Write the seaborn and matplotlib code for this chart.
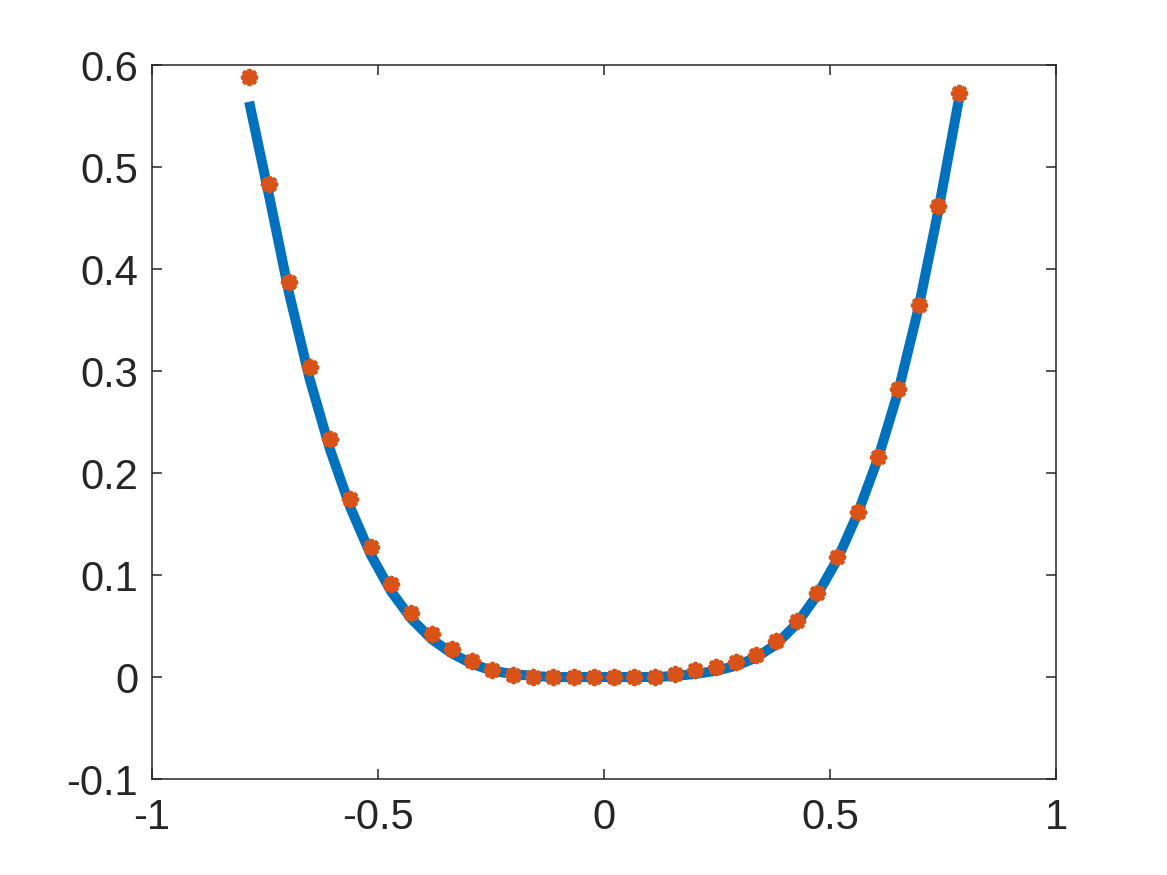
import matplotlib
matplotlib.use("Agg")
import matplotlib.pyplot as plt
import numpy as np
import pandas as pd
import seaborn as sns

# sample positions (equally spaced)
x_vals = [-0.785, -0.740, -0.696, -0.651, -0.606, -0.561, -0.516, -0.471, -0.426,
          -0.381, -0.336, -0.292, -0.247, -0.202, -0.157, -0.112, -0.067, -0.022,
          0.022, 0.067, 0.112, 0.157, 0.202, 0.247, 0.292, 0.336, 0.381, 0.426,
          0.471, 0.516, 0.561, 0.606, 0.651, 0.696, 0.740, 0.785]

# measured points (orange markers)
y_points = [0.588, 0.483, 0.387, 0.304, 0.233, 0.175, 0.127, 0.091, 0.063,
            0.042, 0.027, 0.016, 0.007, 0.002, 0.000, 0.000, 0.000, 0.000,
            0.000, 0.000, 0.000, 0.003, 0.007, 0.010, 0.015, 0.022, 0.035, 0.055,
            0.082, 0.118, 0.162, 0.216, 0.282, 0.365, 0.462, 0.573]

# fitted curve (blue line)
y_curve = [0.564, 0.470, 0.375, 0.292, 0.223, 0.166, 0.120, 0.084, 0.057,
           0.037, 0.023, 0.013, 0.006, 0.003, 0.001, 0.000, 0.000, 0.000,
           0.000, 0.000, 0.000, 0.001, 0.003, 0.006, 0.011, 0.019, 0.032, 0.052,
           0.080, 0.115, 0.160, 0.214, 0.280, 0.362, 0.458, 0.566]

x_ticks = [-1, -0.5, 0, 0.5, 1]
x_ticklabels = ["-1", "-0.5", "0", "0.5", "1"]
y_ticks = [-0.1, 0, 0.1, 0.2, 0.3, 0.4, 0.5, 0.6]
y_ticklabels = ["-0.1", "0", "0.1", "0.2", "0.3", "0.4", "0.5", "0.6"]

df = pd.DataFrame({"x": x_vals, "pts": y_points, "fit": y_curve})

sns.set_theme(style="white")
plt.rcParams["font.family"] = ["Liberation Sans", "DejaVu Sans"]

fig = plt.figure(figsize=(11.67, 8.75), dpi=100)
ax = fig.add_axes([0.1302, 0.1097, 0.7747, 0.816])

sns.lineplot(data=df, x="x", y="fit", ax=ax, color="#0072BD", linewidth=7.2,
             solid_capstyle="butt")
sns.scatterplot(data=df, x="x", y="pts", ax=ax, marker=(8, 2, 0), s=75,
                color="#D95319", linewidth=4, zorder=3)

ax.set_xlim(-1, 1)
ax.set_ylim(-0.1, 0.6)
ax.set_xticks(x_ticks)
ax.set_xticklabels(x_ticklabels)
ax.set_yticks(y_ticks)
ax.set_yticklabels(y_ticklabels)
ax.set_xlabel("")
ax.set_ylabel("")

for s in ax.spines.values():
    s.set_visible(True)
    s.set_color("#262626")
    s.set_linewidth(1.1)
ax.tick_params(direction="in", length=7.5, width=1.1, color="#262626",
               top=True, right=True, bottom=True, left=True,
               labelsize=30, labelcolor="#262626")
ax.tick_params(axis="x", pad=14)
ax.tick_params(axis="y", pad=10)

fig.savefig("out.png", dpi=100, facecolor="white")
